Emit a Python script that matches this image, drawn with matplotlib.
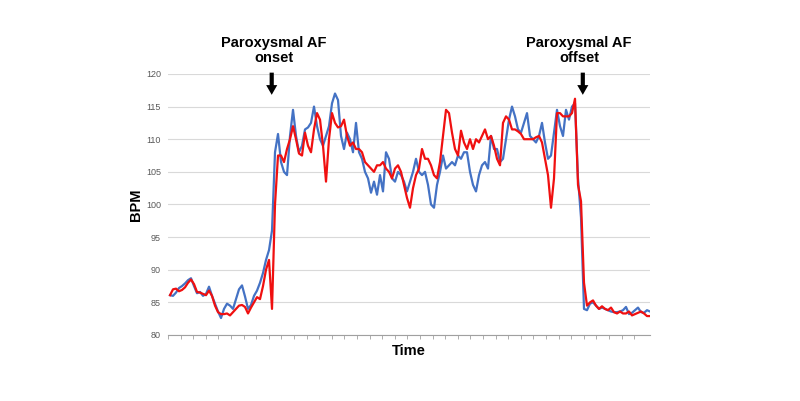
import numpy as np
import matplotlib
matplotlib.use('Agg')
import matplotlib.pyplot as plt

plt.rcParams['font.family'] = ['Liberation Sans', 'DejaVu Sans']

# heart rate readings, one sample per time step
blue_bpm = [86.1, 86.0, 86.5, 87.2, 87.5, 87.9, 88.4, 88.7, 87.5, 86.4,
            86.6, 86.0, 86.3, 87.4, 86.0, 84.8, 83.6, 82.6, 84.0, 84.8,
            84.5, 84.0, 85.5, 87.0, 87.6, 85.9, 84.0, 84.6, 86.0, 86.8,
            88.0, 89.5, 91.5, 93.0, 96.0, 108.0, 110.8, 106.5, 105.0, 104.5,
            110.5, 114.5, 110.5, 108.0, 109.0, 111.5, 111.8, 112.5, 115.0, 112.0,
            110.0, 109.0, 110.5, 112.0, 115.5, 117.0, 116.0, 110.5, 108.5, 111.0,
            110.0, 108.0, 112.5, 108.0, 107.0, 105.0, 104.0, 101.8, 103.5, 101.5,
            104.5, 102.0, 108.0, 107.0, 104.0, 103.5, 105.0, 104.5, 103.5, 102.0,
            103.5, 105.0, 107.0, 105.0, 104.5, 105.0, 103.0, 100.0, 99.5, 103.0,
            105.0, 107.5, 105.5, 106.0, 106.5, 106.0, 107.5, 107.0, 108.0, 108.0,
            105.0, 103.0, 102.0, 104.5, 106.0, 106.5, 105.5, 110.5, 108.5, 108.5,
            106.5, 107.0, 110.0, 113.0, 115.0, 113.5, 111.5, 111.0, 112.5, 114.0,
            110.5, 110.0, 109.5, 110.5, 112.5, 109.5, 107.0, 107.5, 111.0, 114.5,
            112.0, 110.5, 114.5, 113.0, 115.0, 115.5, 104.0, 98.0, 84.0, 83.8,
            84.8, 85.0, 84.5, 84.0, 84.2, 84.0, 83.8, 83.6, 83.5, 83.5,
            83.6, 83.8, 84.3, 83.2, 83.4, 83.8, 84.2, 83.5, 83.4, 83.8,
            83.6]

red_bpm = [86.1, 87.0, 87.1, 86.7, 86.9, 87.3, 88.0, 88.5, 87.8, 86.6,
           86.5, 86.3, 86.1, 86.8, 86.0, 84.5, 83.5, 83.2, 83.2, 83.3,
           83.0, 83.5, 84.0, 84.5, 84.6, 84.3, 83.3, 84.2, 85.0, 85.8,
           85.5, 87.5, 90.0, 91.5, 84.0, 100.0, 107.5, 107.5, 106.5, 108.5,
           110.0, 112.0, 110.0, 107.8, 107.5, 111.0, 109.0, 108.0, 111.5, 114.0,
           113.0, 109.0, 103.5, 110.0, 114.0, 112.5, 111.8, 112.0, 113.0, 110.5,
           109.0, 109.5, 108.5, 108.5, 108.0, 106.5, 106.0, 105.5, 105.0, 106.0,
           106.0, 106.5, 105.5, 105.0, 104.0, 105.5, 106.0, 105.0, 103.0, 101.0,
           99.5, 102.5, 104.5, 105.5, 108.5, 107.0, 107.0, 106.0, 104.5, 104.0,
           106.5, 110.5, 114.5, 114.0, 111.0, 108.5, 107.5, 111.3, 109.5, 108.5,
           110.0, 108.5, 110.0, 109.5, 110.5, 111.5, 110.0, 110.5, 109.0, 107.0,
           106.0, 112.5, 113.5, 113.0, 111.5, 111.5, 111.2, 110.8, 110.0, 110.0,
           110.0, 110.0, 110.3, 110.5, 109.5, 107.0, 104.5, 99.5, 104.0, 114.0,
           114.0, 113.5, 113.5, 113.5, 114.0, 116.2, 103.0, 100.5, 88.0, 84.5,
           85.0, 85.3, 84.5, 84.0, 84.4, 84.0, 83.8, 84.2, 83.5, 83.3,
           83.6, 83.3, 83.3, 83.6, 83.0, 83.2, 83.4, 83.6, 83.3, 82.9,
           82.9]

y_ticks = [80, 85, 90, 95, 100, 105, 110, 115, 120]
events = ['Paroxysmal AF\nonset', 'Paroxysmal AF\noffset']
event_times = [33.9, 137.6]
label_shift = [0.8, -1.3]

t = np.arange(len(blue_bpm))

fig = plt.figure(figsize=(8, 4.01), dpi=100)
ax = fig.add_axes([0.21, 0.1646, 0.6025, 0.651])

ax.plot(t, blue_bpm, color='#4472C4', lw=1.6, zorder=3)
ax.plot(t, red_bpm, color='#F01010', lw=1.6, zorder=4)

ax.set_xlim(-0.67, 160)
ax.set_ylim(80, 120)
ax.set_yticks(y_ticks)
ax.set_xticks(np.arange(-0.67, 157, 4.2))
ax.set_xticklabels([])
ax.tick_params(axis='y', length=0, labelsize=6.5, labelcolor='#595959', pad=5)
ax.tick_params(axis='x', length=3, width=0.6, color='#A0A0A0')
ax.grid(axis='y', color='#D9D9D9', lw=0.8)
ax.set_axisbelow(True)
for side in ['left', 'right', 'top']:
    ax.spines[side].set_visible(False)
ax.spines['bottom'].set_color('#A0A0A0')
ax.spines['bottom'].set_linewidth(0.8)

ax.set_ylabel('BPM', fontsize=10.5, fontweight='bold', labelpad=2)
ax.set_xlabel('Time', fontsize=10.5, fontweight='bold', labelpad=0)

for label, et, sh in zip(events, event_times, label_shift):
    ax.annotate('', xy=(et, 116.8), xytext=(et, 120.2),
                arrowprops=dict(arrowstyle='simple,head_width=0.8,head_length=0.7,tail_width=0.3',
                                color='black', lw=0, shrinkA=0, shrinkB=0),
                annotation_clip=False)
    ax.text(et + sh, 121.4, label, ha='center', va='bottom', fontsize=10.5,
            fontweight='bold', linespacing=1.1)

fig.savefig('out.png', dpi=100)
